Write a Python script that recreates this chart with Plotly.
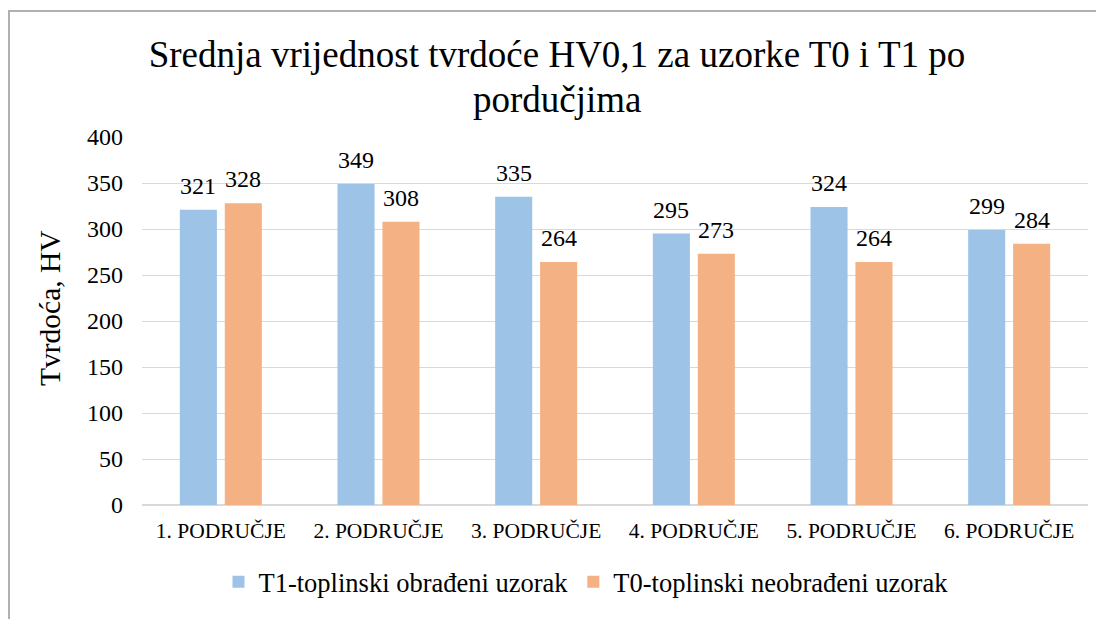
import plotly.graph_objects as go

# Hardness data (HV0,1) per region for both samples
categories = ["1. PODRUČJE", "2. PODRUČJE", "3. PODRUČJE",
              "4. PODRUČJE", "5. PODRUČJE", "6. PODRUČJE"]
t1_values = [321, 349, 335, 295, 324, 299]
t0_values = [328, 308, 264, 273, 264, 284]
t1_name = "T1-toplinski obrađeni uzorak"
t0_name = "T0-toplinski neobrađeni uzorak"
y_ticks = [0, 50, 100, 150, 200, 250, 300, 350, 400]
title_lines = ["Srednja vrijednost tvrdoće HV0,1 za uzorke T0 i T1 po",
               "pordučjima"]

FONT = "Liberation Serif"
BLUE = "#9DC3E6"
ORANGE = "#F4B183"
GRID = "#D9D9D9"

W, H = 1096, 619
M_L, M_R, M_T, M_B = 142, 8, 137, 114
plot_w = W - M_L - M_R
plot_h = H - M_T - M_B


def px_x(x):
    return (x - M_L) / plot_w


def px_y(y):
    return (H - M_B - y) / plot_h


fig = go.Figure()
fig.add_trace(go.Bar(x=categories, y=t1_values, name=t1_name,
                     marker=dict(color=BLUE, line=dict(width=0))))
fig.add_trace(go.Bar(x=categories, y=t0_values, name=t0_name,
                     marker=dict(color=ORANGE, line=dict(width=0))))

# value labels above each bar
annotations = []
for vals, shift in ((t1_values, -22.5), (t0_values, 22.5)):
    for c, v in zip(categories, vals):
        annotations.append(dict(
            x=c, y=v, xref="x", yref="y", text=str(v), showarrow=False,
            xshift=shift, yshift=9, yanchor="bottom",
            font=dict(family=FONT, size=24, color="#000000")))

# rotated y-axis title
annotations.append(dict(
    x=px_x(50), y=px_y(308), xref="paper", yref="paper",
    text="Tvrdoća, HV", textangle=-90, showarrow=False,
    xanchor="center", yanchor="middle",
    font=dict(family=FONT, size=29.5, color="#000000")))

# second line of the chart title (tighter line spacing than <br>)
annotations.append(dict(
    x=px_x(557), y=px_y(99), xref="paper", yref="paper",
    text=title_lines[1], showarrow=False,
    xanchor="center", yanchor="middle",
    font=dict(family=FONT, size=37, color="#000000")))

fig.update_layout(
    width=W, height=H,
    margin=dict(l=M_L, r=M_R, t=M_T, b=M_B),
    paper_bgcolor="white", plot_bgcolor="white",
    barmode="group", bargap=0.43, bargroupgap=0.175,
    title=dict(
        text=title_lines[0],
        x=557 / W, xanchor="center", xref="container",
        y=1 - 54 / H, yanchor="middle", yref="container",
        font=dict(family=FONT, size=37, color="#000000")),
    xaxis=dict(
        showgrid=False, showline=False, zeroline=False, ticks="",
        tickfont=dict(family=FONT, size=21.5, color="#000000"),
        ticklabelstandoff=10),
    yaxis=dict(
        range=[0, 400], tickvals=y_ticks, showgrid=True, gridcolor=GRID,
        gridwidth=1, zeroline=True, zerolinecolor=GRID, zerolinewidth=1.5,
        showline=False, ticks="",
        tickfont=dict(family=FONT, size=24, color="#000000"),
        ticklabelstandoff=18),
    legend=dict(
        orientation="h", x=px_x(586), xanchor="center",
        y=px_y(582), yanchor="middle",
        font=dict(family=FONT, size=26.5, color="#000000"),
        itemwidth=30, traceorder="normal"),
    annotations=annotations,
    shapes=[dict(type="rect", xref="paper", yref="paper",
                 x0=px_x(9), x1=px_x(1110), y0=px_y(640), y1=px_y(11),
                 line=dict(color="#B0B0B0", width=2), layer="below")],
    font=dict(family=FONT),
)

fig.write_html("out.html")
